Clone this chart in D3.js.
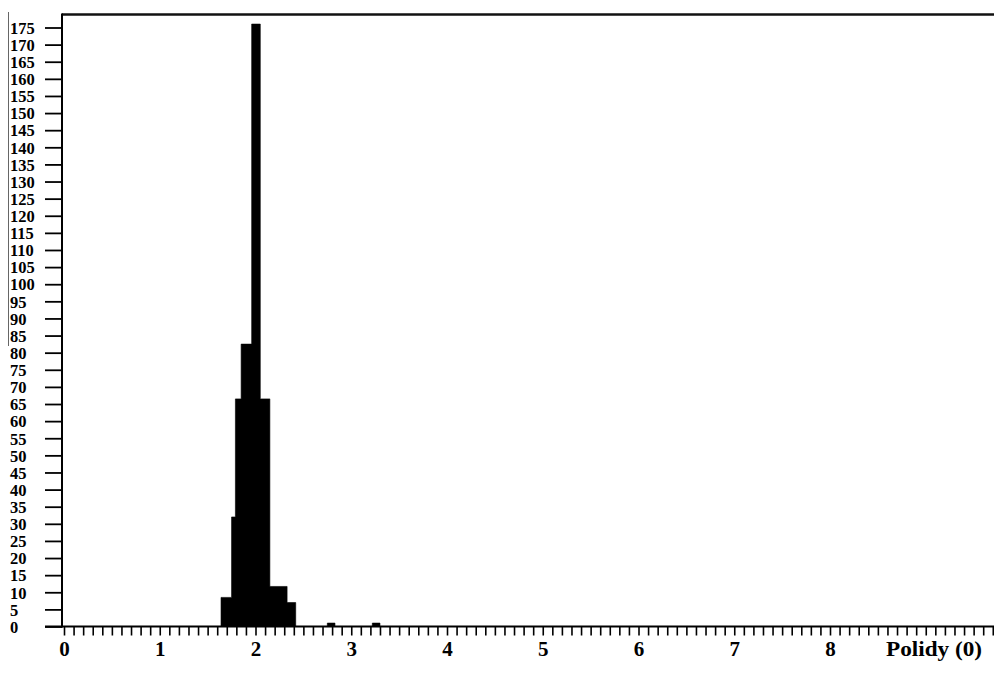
<!DOCTYPE html>
<html>
<head>
<meta charset="utf-8">
<script src="https://cdn.jsdelivr.net/npm/d3@7/dist/d3.min.js"></script>
<style>
  html, body { margin: 0; padding: 0; background: #fff; }
  svg { display: block; }
  text { font-family: "Liberation Serif", "Times New Roman", serif; font-weight: bold; fill: #000; }
</style>
</head>
<body>
<script>
// ---- data ----
const binStart = [1.64, 1.75, 1.79, 1.85, 1.96, 2.05, 2.15, 2.33, 2.75, 3.22];
const binEnd   = [1.75, 1.79, 1.85, 1.96, 2.05, 2.15, 2.33, 2.42, 2.83, 3.30];
const counts   = [8.5, 32, 66.5, 82.5, 176, 66.5, 11.7, 7, 1, 1];

const yTickValues = [0, 5, 10, 15, 20, 25, 30, 35, 40, 45, 50, 55, 60, 65, 70, 75, 80, 85,
                     90, 95, 100, 105, 110, 115, 120, 125, 130, 135, 140, 145, 150, 155,
                     160, 165, 170, 175];
const xLabelValues = [0, 1, 2, 3, 4, 5, 6, 7, 8];
const xMinorTicks = [];
for (let i = 0; i <= 97; i++) xMinorTicks.push(+(i / 10).toFixed(1));
const xTitle = "Polidy (0)";

// ---- layout ----
const W = 994, H = 679;
const svg = d3.select("body").append("svg").attr("width", W).attr("height", H);

const x0px = 64, x8px = 830;
const x = d3.scaleLinear().domain([0, 8]).range([x0px, x8px]);
const y = d3.scaleLinear().domain([0, 175]).range([626.5, 27.5]);

const axisX = 62;     // y-axis line position
const topY = 14.5;    // top frame line

// scan artifact: faint vertical line at far left
svg.append("line").attr("x1", 8.5).attr("x2", 8.5).attr("y1", 12).attr("y2", 346)
  .attr("stroke", "#666").attr("stroke-width", 1);

// histogram as one step path (contiguous bins merged, no seams)
const bins = counts.map((c, i) => ({ s: binStart[i], e: binEnd[i], c }));
const p = d3.path();
let open = false, lastEnd = null;
bins.forEach((b, i) => {
  if (!open || Math.abs(b.s - lastEnd) > 1e-9) {
    if (open) { p.lineTo(x(lastEnd), y(0)); p.closePath(); }
    p.moveTo(x(b.s), y(0));
    open = true;
  }
  p.lineTo(x(b.s), y(b.c));
  p.lineTo(x(b.e), y(b.c));
  lastEnd = b.e;
});
if (open) { p.lineTo(x(lastEnd), y(0)); p.closePath(); }
svg.append("path").attr("d", p.toString()).attr("fill", "#000")
  .attr("stroke", "#000").attr("stroke-width", 0.6);

// top frame line
svg.append("line").attr("x1", axisX).attr("x2", W).attr("y1", topY).attr("y2", topY)
  .attr("stroke", "#111").attr("stroke-width", 2.5);

// y axis
const yAxis = d3.axisLeft(y).tickValues(yTickValues).tickSize(17).tickPadding(0)
  .tickFormat(d3.format("d"));
const gy = svg.append("g").attr("transform", `translate(${axisX},0)`).call(yAxis);
gy.select(".domain").remove();
gy.selectAll(".tick line").attr("stroke", "#000").attr("stroke-width", 1.8);
gy.selectAll(".tick text")
  .attr("text-anchor", "start")
  .attr("x", 10 - axisX)
  .attr("dy", "0.35em")
  .style("font-size", "16.5px")
  .style("font-family", "'Liberation Serif', serif")
  .style("font-weight", "bold");
svg.append("line").attr("x1", axisX).attr("x2", axisX).attr("y1", topY - 1).attr("y2", y(0) + 1)
  .attr("stroke", "#000").attr("stroke-width", 2);

// x axis minor ticks
const xAxisTicks = d3.axisBottom(x).tickValues(xMinorTicks).tickSize(9).tickFormat("");
const gx = svg.append("g").attr("transform", `translate(0,${y(0)})`).call(xAxisTicks);
gx.select(".domain").remove();
gx.selectAll(".tick line").attr("stroke", "#000").attr("stroke-width", 1.6);
svg.append("line").attr("x1", axisX - 17).attr("x2", W).attr("y1", y(0)).attr("y2", y(0))
  .attr("stroke", "#000").attr("stroke-width", 2.2);

// x labels
const xAxisLabels = d3.axisBottom(x).tickValues(xLabelValues).tickSize(0).tickPadding(0)
  .tickFormat(d3.format("d"));
const gxl = svg.append("g").attr("transform", `translate(0,649)`).call(xAxisLabels);
gxl.select(".domain").remove();
gxl.selectAll(".tick text")
  .attr("y", 0)
  .attr("dy", "0.35em")
  .style("font-size", "21px")
  .style("font-family", "'Liberation Serif', serif")
  .style("font-weight", "bold");

// axis title
svg.append("text").attr("x", 934).attr("y", 649).attr("dy", "0.35em")
  .attr("text-anchor", "middle")
  .style("font-size", "21px")
  .attr("textLength", 96).attr("lengthAdjust", "spacingAndGlyphs")
  .text(xTitle);
</script>
</body>
</html>
